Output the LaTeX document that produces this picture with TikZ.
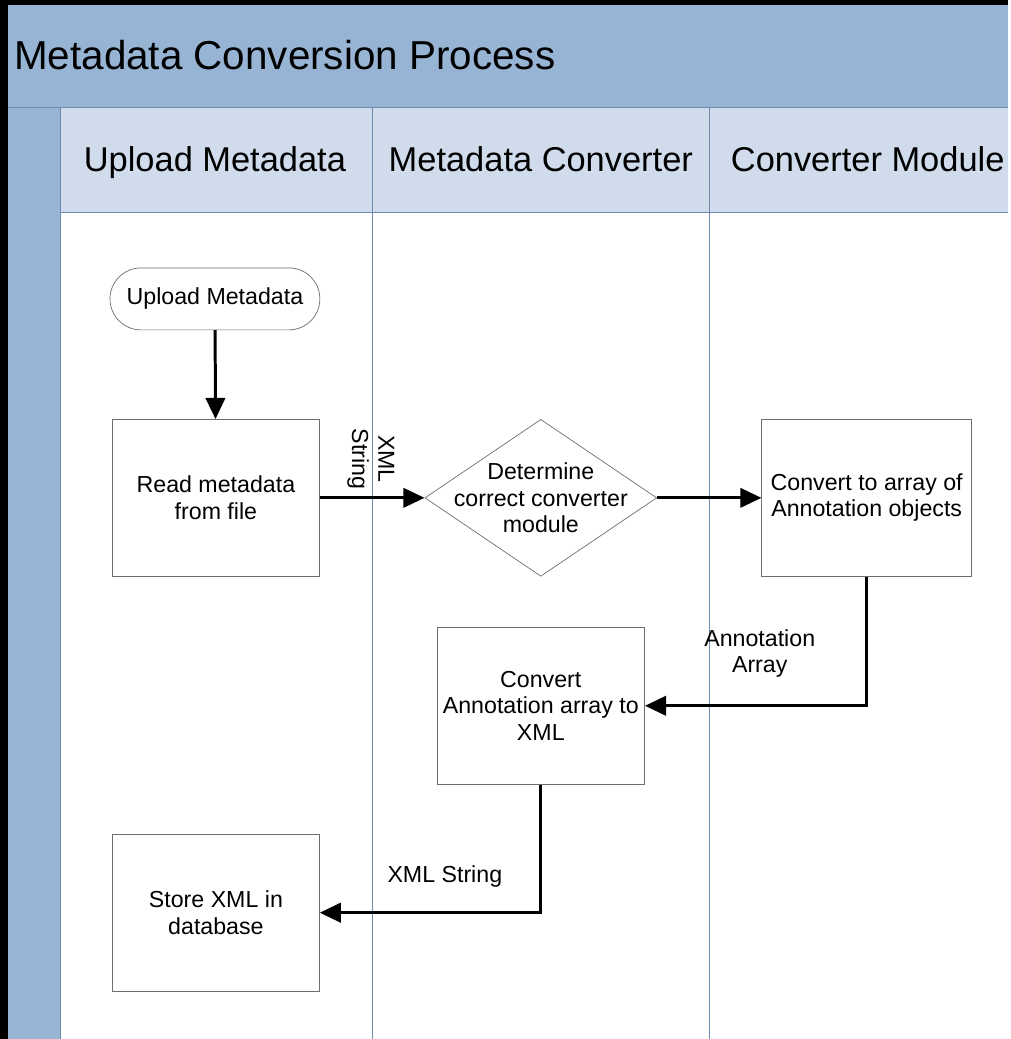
\documentclass[tikz,border=0pt]{standalone}
\usepackage{fontspec}
\setmainfont{Liberation Sans}
\usetikzlibrary{shapes.geometric,arrows.meta}

\definecolor{bandblue}{RGB}{152,180,213}
\definecolor{headblue}{RGB}{208,220,236}
\definecolor{laneline}{RGB}{110,138,175}
\definecolor{boxline}{RGB}{110,110,110}

\begin{document}
\begin{tikzpicture}
  [x=0.02cm,y=-0.02cm,
   every node/.style={font=\fontsize{13.2}{15}\selectfont,align=center},
   procbox/.style={draw=boxline,fill=white,minimum width=4.14cm,minimum height=3.14cm},
   lanehead/.style={anchor=base,font=\fontsize{19.6}{23}\selectfont},
   flow/.style={line width=1.7pt,-{Triangle[length=12pt,width=11pt]}}]
  % background and swimlanes
  \fill[black] (0,0) rectangle (1008,1039);
  \fill[bandblue] (8,5) rectangle (1008,1039);
  \fill[headblue] (60,107) rectangle (1008,212);
  \fill[white] (60,212) rectangle (1008,1039);
  \draw[laneline] (8,107) -- (1008,107);
  \draw[laneline] (60,212) -- (1008,212);
  \foreach \lx in {60,372,710}
    \draw[laneline] (\lx,107) -- (\lx,1039);

  \node[anchor=base west,font=\fontsize{23}{27}\selectfont] (title) at (8,70) {Metadata Conversion Process};
  \node[lanehead] (lane1) at (215,172) {Upload Metadata};
  \node[lanehead] (lane2) at (541,172) {Metadata Converter};
  \node[lanehead] (lane3) at (868,172) {Converter Module};

  % steps
  \node[procbox,rounded corners=0.62cm,minimum width=4.2cm,minimum height=1.24cm] (start) at (215,299) {Upload Metadata};
  \node[procbox] (read) at (216,498) {Read metadata\\from file};
  \node[diamond,draw=boxline,fill=white,minimum width=4.64cm,minimum height=3.14cm,
        label={[align=center]center:Determine\\correct converter\\module}] (decide) at (541,498) {};
  \node[procbox,minimum width=4.2cm] (conv) at (867,498) {Convert to array of\\Annotation objects};
  \node[procbox] (toxml) at (541,706) {Convert\\Annotation array to\\XML};
  \node[procbox] (store) at (216,913) {Store XML in\\database};

  % labels
  \node[rotate=-90] (xmllbl) at (371,459) {XML\\String};
  \node (annlbl) at (760,654) {Annotation\\Array};
  \node (strlbl) at (445,877) {XML String};

  \draw[flow] (start) -- (read);
  \draw[flow] (read) -- (decide);
  \draw[flow] (decide) -- (conv);
  \draw[flow] (conv.south) |- (toxml.east);
  \draw[flow] (toxml.south) |- (store.east);

\end{tikzpicture}
\end{document}
